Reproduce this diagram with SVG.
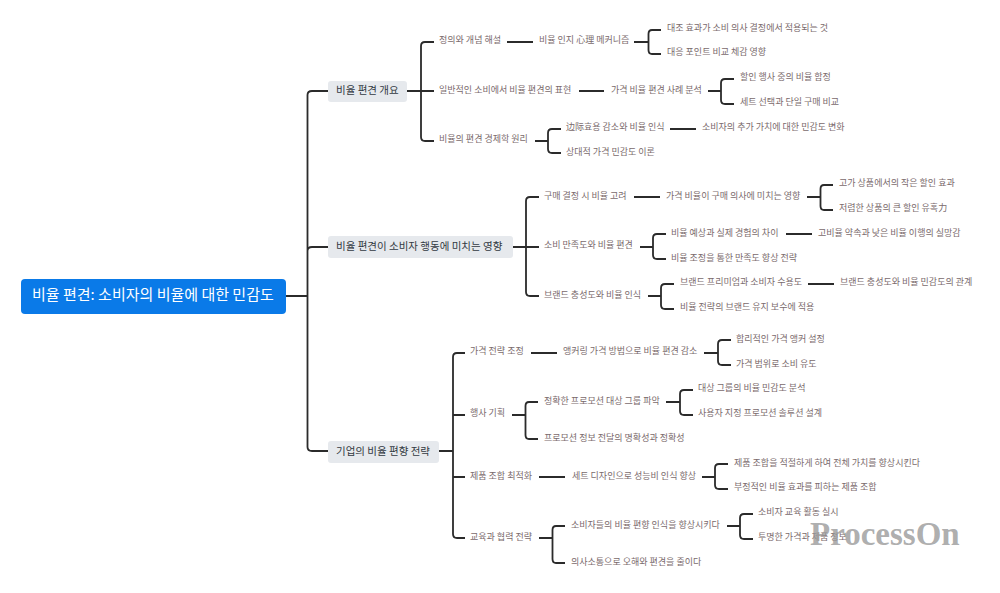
<svg xmlns="http://www.w3.org/2000/svg" width="1000" height="593" viewBox="0 0 1000 593">
<style>
text{font-family:"Noto Sans CJK KR","Noto Sans",sans-serif;dominant-baseline:central}
.l{font-size:9px;fill:#7a6a6c}
.m{font-size:10.5px;fill:#333a42}
.r{font-size:15px;fill:#fff}
.b{fill:#e6e9ed}
#connectors path{fill:none;stroke:#2b2b2b;stroke-width:1.8}
</style>
<rect width="1000" height="593" fill="#fff"/>
<g id="connectors">
<path d="M286 296H307.5M307.5 95Q307.5 91 312 91H328M307.5 251Q307.5 247 312 247H328M307.5 447V95M307.5 447Q307.5 451 312 451H328"/>
<path d="M407 91H421M421 46Q421 42 425 42H434M421 137V46M421 137Q421 141 425 141H434M421 91H434"/>
<path d="M507 42H533M634 42H648.5M648.5 34Q648.5 30 652 30H661M648.5 50V34M648.5 50Q648.5 54 652 54H661"/>
<path d="M579 91H604M708 91H721M721 83Q721 79 725 79H734M721 100V83M721 100Q721 104 725 104H734"/>
<path d="M535 141H548M548 133Q548 129 552 129H561M548 149V133M548 149Q548 153 552 153H561M670 129H696"/>
<path d="M513 247H526M526 201Q526 197 530 197H539M526 292V201M526 292Q526 296 530 296H539M526 247H539"/>
<path d="M634 197H660M807 197H820.5M820.5 189Q820.5 185 824 185H833M820.5 206V189M820.5 206Q820.5 210 824 210H833"/>
<path d="M640 247H653M653 238Q653 234 657 234H666M653 255V238M653 255Q653 259 657 259H666M786 234H812"/>
<path d="M648 296H661M661 288Q661 284 665 284H674M661 305V288M661 305Q661 309 665 309H674M808 284H834"/>
<path d="M439 451H453M453 357Q453 353 457 353H465M453 534V357M453 534Q453 538 457 538H465M453 415H465M453 477H465"/>
<path d="M531 353H557M704 353H718M718 344Q718 340 722 340H731M718 361V344M718 361Q718 365 722 365H731"/>
<path d="M512 415H525.5M525.5 406Q525.5 402 529 402H538M525.5 435V406M525.5 435Q525.5 439 529 439H538M666 402H680M680 394Q680 390 684 390H693M680 411V394M680 411Q680 415 684 415H693"/>
<path d="M539 477H565M702 477H715M715 468Q715 464 719 464H728M715 485V468M715 485Q715 489 719 489H728"/>
<path d="M539 538H552.5M552.5 530Q552.5 526 556 526H565M552.5 559V530M552.5 559Q552.5 563 556 563H565M727 526H740M740 518Q740 514 744 514H753M740 535V518M740 535Q740 539 744 539H753"/>
</g>
<g id="root"><rect x="21" y="279" width="265" height="35" rx="4" fill="#0a7ae8"/><text class="r" x="32" y="293">비율 편견: 소비자의 비율에 대한 민감도</text></g>
<g id="n1"><rect class="b" x="328" y="81" width="79" height="21" rx="3"/><text class="m" x="336" y="89.5">비율 편견 개요</text></g>
<g id="n2"><rect class="b" x="328" y="236" width="185" height="22" rx="3"/><text class="m" x="336" y="245">비율 편견이 소비자 행동에 미치는 영향</text></g>
<g id="n3"><rect class="b" x="328" y="441" width="111" height="22" rx="3"/><text class="m" x="336" y="450">기업의 비율 편향 전략</text></g>
<g id="n1a"><text class="l" x="439" y="39.5">정의와 개념 해설</text></g>
<g id="n1a1"><text class="l" x="539" y="39.5">비율 인지 心理 메커니즘</text></g>
<g id="n1a1a"><text class="l" x="667" y="27.5">대조 효과가 소비 의사 결정에서 적용되는 것</text></g>
<g id="n1a1b"><text class="l" x="667" y="51.5">대응 포인트 비교 체감 영향</text></g>
<g id="n1b"><text class="l" x="439" y="89.5">일반적인 소비에서 비율 편견의 표현</text></g>
<g id="n1b1"><text class="l" x="611" y="89.5">가격 비율 편견 사례 분석</text></g>
<g id="n1b1a"><text class="l" x="740" y="76.5">할인 행사 중의 비율 함정</text></g>
<g id="n1b1b"><text class="l" x="740" y="101">세트 선택과 단일 구매 비교</text></g>
<g id="n1c"><text class="l" x="439" y="138.5">비율의 편견 경제학 원리</text></g>
<g id="n1c1"><text class="l" x="566" y="126.5">边际효용 감소와 비율 인식</text></g>
<g id="n1c1a"><text class="l" x="702" y="126.5">소비자의 추가 가치에 대한 민감도 변화</text></g>
<g id="n1c2"><text class="l" x="566" y="151">상대적 가격 민감도 이론</text></g>
<g id="n2a"><text class="l" x="544" y="195">구매 결정 시 비율 고려</text></g>
<g id="n2a1"><text class="l" x="666" y="195">가격 비율이 구매 의사에 미치는 영향</text></g>
<g id="n2a1a"><text class="l" x="839" y="182.5">고가 상품에서의 작은 할인 효과</text></g>
<g id="n2a1b"><text class="l" x="839" y="207">저렴한 상품의 큰 할인 유혹力</text></g>
<g id="n2b"><text class="l" x="544" y="244.5">소비 만족도와 비율 편견</text></g>
<g id="n2b1"><text class="l" x="671" y="232">비율 예상과 실제 경험의 차이</text></g>
<g id="n2b1a"><text class="l" x="818" y="232">고비율 약속과 낮은 비율 이행의 실망감</text></g>
<g id="n2b2"><text class="l" x="671" y="257">비율 조정을 통한 만족도 향상 전략</text></g>
<g id="n2c"><text class="l" x="544" y="294">브랜드 충성도와 비율 인식</text></g>
<g id="n2c1"><text class="l" x="680" y="281.5">브랜드 프리미엄과 소비자 수용도</text></g>
<g id="n2c1a"><text class="l" x="840" y="281.5">브랜드 충성도와 비율 민감도의 관계</text></g>
<g id="n2c2"><text class="l" x="680" y="306.5">비율 전략의 브랜드 유지 보수에 적용</text></g>
<g id="n3a"><text class="l" x="470" y="350.5">가격 전략 조정</text></g>
<g id="n3a1"><text class="l" x="563" y="350.5">앵커링 가격 방법으로 비율 편견 감소</text></g>
<g id="n3a1a"><text class="l" x="736" y="338.5">합리적인 가격 앵커 설정</text></g>
<g id="n3a1b"><text class="l" x="736" y="363">가격 범위로 소비 유도</text></g>
<g id="n3b"><text class="l" x="470" y="412.5">행사 기획</text></g>
<g id="n3b1"><text class="l" x="544" y="400">정확한 프로모션 대상 그룹 파악</text></g>
<g id="n3b1a"><text class="l" x="698" y="387.5">대상 그룹의 비율 민감도 분석</text></g>
<g id="n3b1b"><text class="l" x="698" y="412">사용자 지정 프로모션 솔루션 설계</text></g>
<g id="n3b2"><text class="l" x="544" y="437">프로모션 정보 전달의 명확성과 정확성</text></g>
<g id="n3c"><text class="l" x="470" y="475">제품 조합 최적화</text></g>
<g id="n3c1"><text class="l" x="572" y="475">세트 디자인으로 성능비 인식 향상</text></g>
<g id="n3c1a"><text class="l" x="734" y="462">제품 조합을 적절하게 하여 전체 가치를 향상시킨다</text></g>
<g id="n3c1b"><text class="l" x="734" y="486.5">부정적인 비율 효과를 피하는 제품 조합</text></g>
<g id="n3d"><text class="l" x="470" y="536.5">교육과 협력 전략</text></g>
<g id="n3d1"><text class="l" x="571" y="524">소비자들의 비율 편향 인식을 향상시키다</text></g>
<g id="n3d1a"><text class="l" x="758" y="511.5">소비자 교육 활동 실시</text></g>
<g id="n3d1b"><text class="l" x="758" y="536">투명한 가격과 제품 정보</text></g>
<g id="n3d2"><text class="l" x="571" y="561">의사소통으로 오해와 편견을 줄이다</text></g>
<text x="810" y="533.5" style="font-family:'Liberation Serif',serif;font-size:33px;font-weight:bold;fill:#999;fill-opacity:.8">ProcessOn</text>
</svg>
